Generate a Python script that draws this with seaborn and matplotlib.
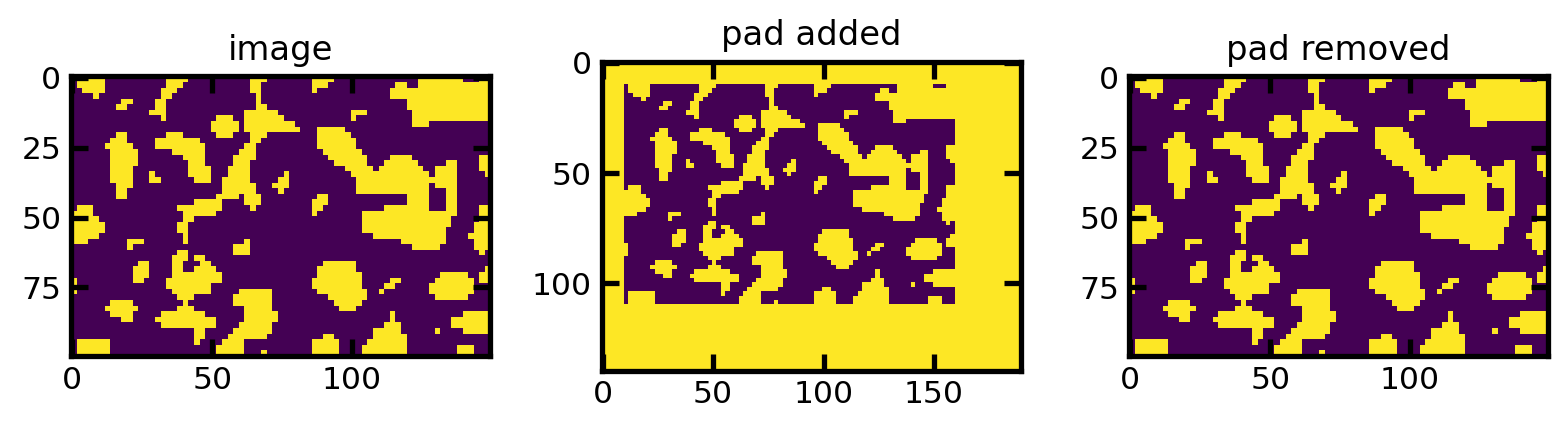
import numpy as np
import matplotlib
matplotlib.use("Agg")
import matplotlib.pyplot as plt
import seaborn as sns

# binary blob image, 100 x 150 px, read off in 2x2 px cells (50 rows x 75 cols)
# each string lists the yellow (=1) cell columns of one cell row
BLOB_ROWS = [
    "1-5 17-20 32-34 43-46 62-69 73-74",
    "1-5 17-19 32-33 43-45 58-59 62-74",
    "2-5 16-18 32-33 43 57-74",
    "4 16-17 33 57-74",
    "9-10 15-16 33 60-74",
    "8-9 15-16 33-34 60-74",
    "14-16 31-36 50-52 61-74",
    "16 26-28 31-37 50 61-74",
    "25-29 31-39 61-63",
    "25-29 31-40 44-48",
    "8-9 17-19 26-28 32-34 44-49",
    "7-9 15-22 32-33 44-50",
    "6-10 15-23 31-32 44-50",
    "7-11 18-23 30-32 45-51",
    "7-11 20-23 29-32 46-52 57-60 73-74",
    "7-11 21-23 29-31 47-52 56-61 67-68 73-74",
    "7-10 21-24 28-31 49-53 55-62 65-68 73-74",
    "7-10 14 21-24 28-31 38 50-63 65-68 74",
    "7-10 14-15 22-24 27-31 37-38 51-68",
    "8-10 27-32 36-38 51-63 65-68",
    "8-9 27-32 37 51-63 67-68",
    "8-9 26-29 31-33 44-45 60-63 67-68",
    "22-26 31-33 43-45 60-63 67-68",
    "1-3 19-26 32 43-44 56-63 67-68 73-74",
    "0-3 20-25 43 52-68 73-74",
    "0-4 20-21 52-67 73-74",
    "0-5 19-20 52-67 72-74",
    "0-5 19-20 52-66 72-74",
    "0-4 20 54-66 71-74",
    "0-2 10-12 20 31 59-66 72-74",
    "10 29-31 61-65 72-74",
    "19-20 29-31 73",
    "18-20 22-23",
    "12-13 18-19 23-24 45-50",
    "11-13 18-19 22-25 44-50 74",
    "11-13 18-26 44-51 66-70 73-74",
    "0 11-12 17-26 43-51 57-58 65-71 73-74",
    "0 17-24 43-51 56-57 64-71",
    "0 18-24 30-35 44-52 55 64-71",
    "19-21 29-35 46-52 65-70",
    "7-10 20 29-35 47-51",
    "6-11 19-21 31-35 48-50",
    "7-10 16-23 31-36 57 70-74",
    "9-10 15-25 31-36 57 68-74",
    "16-25 30-35 56-58 68-74",
    "22-23 29-35 54-58 65 70-74",
    "22-23 28-34 45-46 54-59",
    "1-6 22 27-30 43-47 53-59",
    "1-6 26-30 43-47 52-59 69-71",
    "1-6 26-30 34 43-47 52-59 69-71",
]
CELL = 2
N_CELL_COLS = 75
PAD_BEFORE = 10
PAD_AFTER = 30

TITLES = ["image", "pad added", "pad removed"]
XTICKS = [[0, 50, 100], [0, 50, 100, 150], [0, 50, 100]]
YTICKS = [[0, 25, 50, 75], [0, 50, 100], [0, 25, 50, 75]]


def parse_rows(rows, ncols):
    grid = np.zeros((len(rows), ncols), dtype=int)
    for i, row in enumerate(rows):
        for part in row.split():
            a, _, b = part.partition("-")
            grid[i, int(a):int(b or a) + 1] = 1
    return grid


im = parse_rows(BLOB_ROWS, N_CELL_COLS).repeat(CELL, axis=0).repeat(CELL, axis=1)
padded = np.pad(im, [[PAD_BEFORE, PAD_AFTER], [PAD_BEFORE, PAD_AFTER]],
                mode="constant", constant_values=1)
removed = padded[PAD_BEFORE:-PAD_AFTER, PAD_BEFORE:-PAD_AFTER]

W, H = 1568, 434
fig = plt.figure(figsize=(W / 200, H / 200), dpi=200)
lefts = [0.0453, 0.3837, 0.7200]
width = 0.2675

for k, arr in enumerate([im, padded, removed]):
    nr, nc = arr.shape
    h = width * W * nr / nc / H
    ax = fig.add_axes([lefts[k], 0.502 - h / 2, width, h])
    sns.heatmap(arr, ax=ax, cmap="viridis", vmin=0, vmax=1, cbar=False,
                xticklabels=False, yticklabels=False)
    ax.set_aspect("equal")
    for sp in ax.spines.values():
        sp.set_visible(True)
        sp.set_linewidth(1.9)
        sp.set_color("black")
    ax.set_xticks(np.array(XTICKS[k]) + 0.5)
    ax.set_xticklabels(XTICKS[k])
    ax.set_yticks(np.array(YTICKS[k]) + 0.5)
    ax.set_yticklabels(YTICKS[k], rotation=0)
    ax.tick_params(direction="in", length=6, width=1.9, color="black",
                   top=True, right=True, labelsize=11.3, pad=3.5)
    ax.set_title(TITLES[k], fontsize=12.2, pad=6)

fig.savefig("out.png", dpi=200, facecolor="white")
